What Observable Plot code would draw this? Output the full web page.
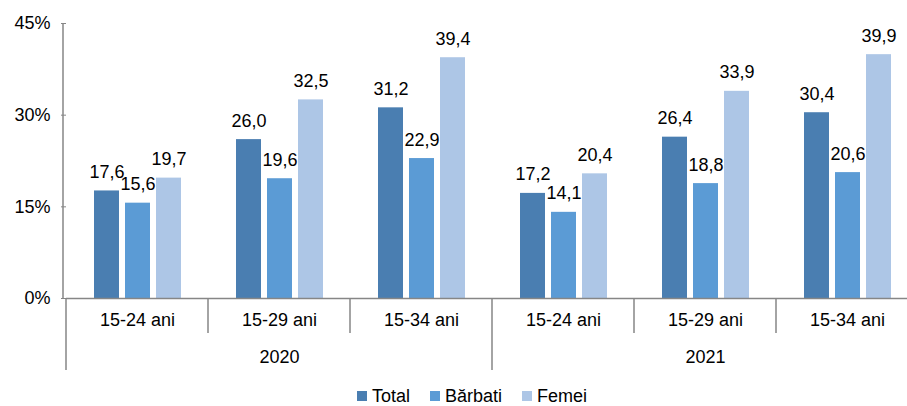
<!DOCTYPE html>
<html><head><meta charset="utf-8">
<script src="https://cdn.jsdelivr.net/npm/d3@7"></script>
<script src="https://cdn.jsdelivr.net/npm/@observablehq/plot@0.6"></script>
<style>
html,body{margin:0;padding:0;background:#fff;overflow:hidden;}
#chart{width:907px;font-family:'Liberation Sans',Arial,sans-serif;}
.legend{display:flex;justify-content:center;align-items:center;height:20px;padding-left:37px;font-size:18px;color:#000;}
.legend .item{display:flex;align-items:center;margin:0 10px;}
.legend .sw{display:inline-block;width:10px;height:10px;margin-right:5px;}
</style></head><body><div id="chart"></div>
<script>
const years = ["2020", "2021"];
const ageGroups = ["15-24 ani", "15-29 ani", "15-34 ani"];
const series = ["Total", "Bărbati", "Femei"];
const colors = ["#4a7eb1", "#5b9bd5", "#adc6e6"];
const total = [17.6, 26.0, 31.2, 17.2, 26.4, 30.4];
const barbati = [15.6, 19.6, 22.9, 14.1, 18.8, 20.6];
const femei = [19.7, 32.5, 39.4, 20.4, 33.9, 39.9];
const yTicks = [0, 15, 30, 45];

const cats = years.flatMap(y => ageGroups.map(a => `${y}|${a}`));
const seriesValues = [total, barbati, femei];
const rows = [];
cats.forEach((c, i) => series.forEach((s, j) => rows.push({cat: c, series: s, value: seriesValues[j][i]})));
const yearRows = years.map(y => ({cat: `${y}|${ageGroups[1]}`, year: y}));
const fmt = v => v.toFixed(1).replace(".", ",");
const grey = "#868686";

const plot = Plot.plot({
  width: 907, height: 386,
  marginLeft: 63, marginRight: -13, marginTop: 23, marginBottom: 88,
  style: {fontFamily: "'Liberation Sans', Arial, sans-serif", fontSize: "18px", color: "#000", background: "#fff"},
  fx: {domain: cats, padding: 0},
  x: {domain: series, paddingInner: 0.2, paddingOuter: 0.87, axis: null},
  y: {domain: [0, 45]},
  color: {domain: series, range: colors},
  marks: [
    Plot.barY(rows, {fx: "cat", x: "series", y: "value", fill: "series"}),
    Plot.text(rows, {fx: "cat", x: "series", y: "value", text: d => fmt(d.value), lineAnchor: "bottom", dy: -13, fill: "#000"}),
    Plot.axisY({ticks: yTicks, tickFormat: d => d + "%", tickSize: 5, tickPadding: 11, stroke: grey, fill: "#000", label: null}),
    Plot.axisFx({anchor: "bottom", tickFormat: d => d.split("|")[1], tickSize: 0, tickPadding: 15, label: null, fill: "#000"}),
    Plot.ruleY([0], {stroke: grey, strokeWidth: 1.5}),
    Plot.text(yearRows, {fx: "cat", text: "year", frameAnchor: "bottom", lineAnchor: "top", dy: 52, fill: "#000"})
  ]
});

const fxs = plot.scale("fx");
const ys = plot.scale("y");
const svg = d3.select(plot);
const g = svg.append("g").attr("stroke", grey).attr("stroke-width", 1.5);
const y0 = ys.apply(0);
const yTop = ys.apply(45);
// y axis line
g.append("line").attr("x1", fxs.range[0]).attr("x2", fxs.range[0]).attr("y1", yTop).attr("y2", y0);
cats.forEach((c, i) => {
  const x = fxs.apply(c);
  const isYearStart = i % ageGroups.length === 0;
  g.append("line").attr("x1", x).attr("x2", x).attr("y1", y0).attr("y2", y0 + (isYearStart ? 72 : 35));
});
document.getElementById("chart").append(plot);

const legend = d3.select("#chart").append("div").attr("class", "legend");
series.forEach((s, i) => {
  const item = legend.append("span").attr("class", "item");
  item.append("span").attr("class", "sw").style("background", colors[i]);
  item.append("span").text(s);
});
</script>
</body></html>
